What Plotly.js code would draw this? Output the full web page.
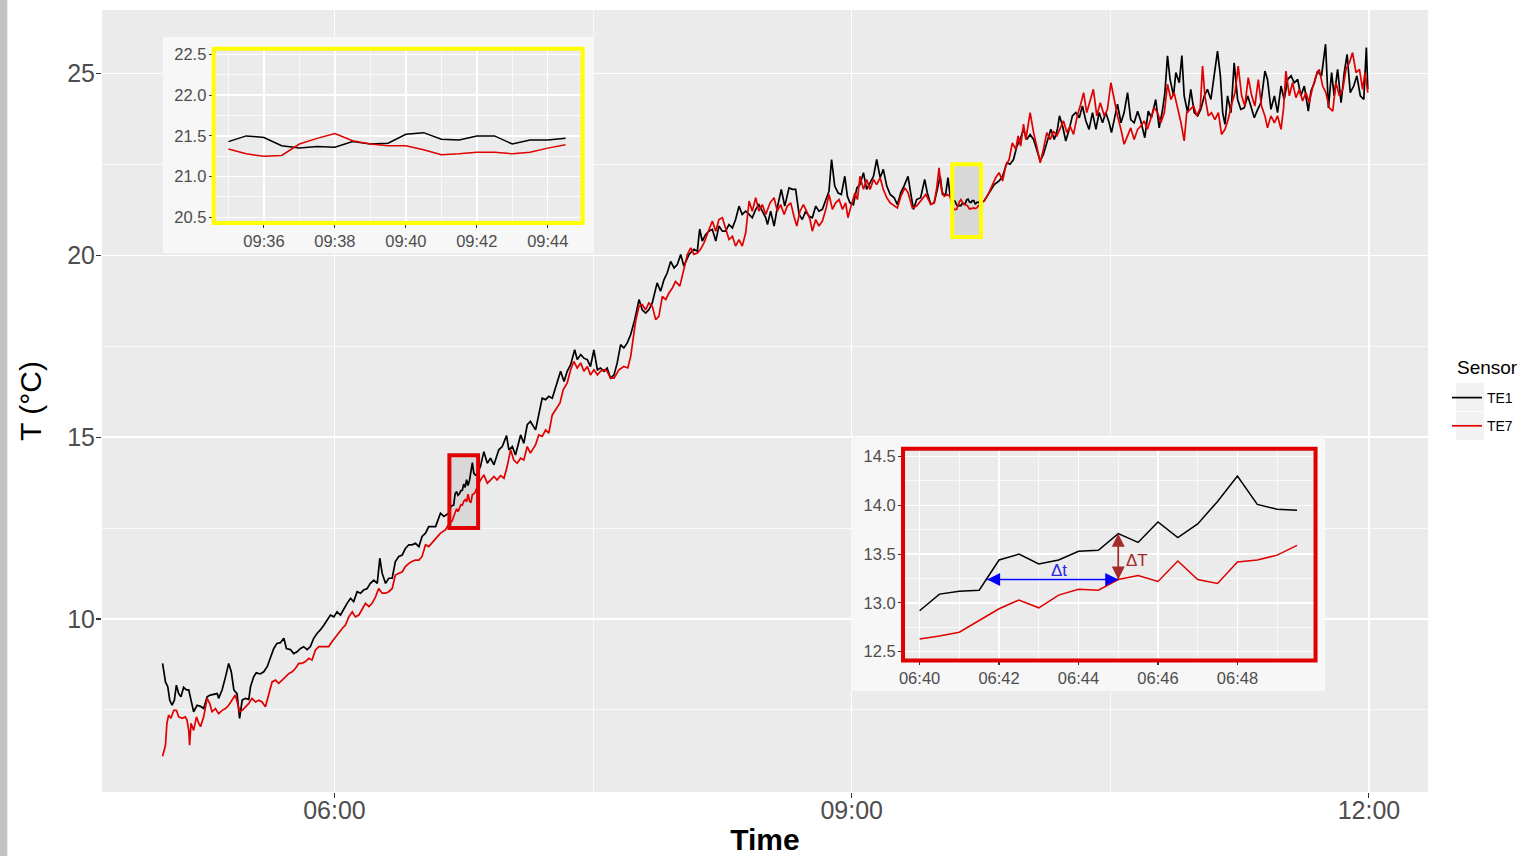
<!DOCTYPE html>
<html><head><meta charset="utf-8">
<script src="https://cdn.plot.ly/plotly-3.0.1.min.js"></script>
<style>html,body{margin:0;padding:0;background:#fff;}#chart{width:1528px;height:856px;}</style>
</head><body><div id="chart"></div>
<script>
// ---- DATA ----
// Main series: [minutes after 05:00, temperature °C]
const te1Main = [[0.2,8.78],[1.2,8.27],[2.0,8.14],[2.7,7.77],[3.5,7.63],[4.3,7.77],[5.0,8.18],[5.8,7.95],[6.6,7.86],[7.5,8.12],[8.5,8.05],[9.3,8.05],[10.1,7.77],[11.0,7.45],[12.2,7.63],[13.4,7.60],[14.5,7.54],[15.7,7.86],[16.8,7.91],[18.0,7.94],[19.2,7.95],[19.7,7.82],[20.9,8.05],[22.1,8.41],[23.2,8.78],[24.1,8.55],[25.0,8.05],[26.1,7.95],[27.0,7.27],[27.9,7.77],[29.0,7.82],[30.2,7.79],[30.8,8.14],[31.9,8.41],[32.8,8.52],[34.2,8.49],[35.4,8.55],[36.6,8.69],[37.7,8.96],[38.9,9.19],[40.0,9.33],[41.2,9.35],[42.4,9.47],[43.3,9.19],[44.7,9.16],[45.8,9.05],[47.0,9.10],[48.2,9.19],[49.3,9.24],[50.5,9.16],[51.6,9.24],[52.8,9.47],[54.0,9.61],[55.1,9.70],[56.3,9.83],[57.5,9.97],[58.6,10.11],[59.8,10.06],[60.9,10.20],[62.1,10.11],[63.3,10.29],[64.4,10.43],[65.6,10.57],[66.7,10.48],[67.9,10.75],[69.1,10.71],[70.2,10.80],[71.4,10.84],[72.5,10.98],[73.7,11.07],[74.9,10.98],[75.8,11.67],[76.6,11.26],[77.8,10.98],[78.9,11.12],[80.1,11.12],[81.2,11.58],[82.4,11.72],[83.6,11.76],[84.7,11.94],[85.9,12.04],[87.0,12.04],[88.2,12.08],[89.4,11.99],[90.5,12.27],[91.7,12.36],[92.8,12.54],[95.2,12.54],[96.9,12.91],[98.1,12.82],
[110.8,14.19],[112.0,14.60],[113.2,14.28],[114.3,14.42],[115.5,14.24],[117.2,14.65],[118.4,14.74],[119.9,15.04],[120.7,14.65],[121.9,14.74],[123.0,14.51],[124.8,15.06],[125.9,14.83],[127.1,15.34],[128.2,15.43],[130.0,15.20],[131.1,15.61],[132.3,16.07],[133.5,16.03],[134.6,16.12],[135.8,16.07],[137.5,16.49],[138.7,16.81],[139.9,16.53],[141.0,16.81],[142.2,16.99],[143.6,17.40],[144.5,17.13],[145.7,17.27],[146.8,17.17],[148.0,17.13],[149.1,16.94],[150.3,17.40],[151.5,16.85],[152.6,16.90],[153.8,16.81],[154.9,16.90],[156.1,16.62],[157.3,16.71],[158.4,17.04],[159.6,17.54],[160.7,17.45],[161.9,17.59],
[163.1,17.82],[164.5,18.23],[166.0,18.78],[167.1,18.50],[168.3,18.41],[169.4,18.50],[170.6,18.69],[172.3,19.24],[173.5,19.01],[174.7,19.33],[175.8,19.51],[177.0,19.83],[178.2,19.65],[179.3,19.74],[180.5,20.02],[181.6,19.70],[183.4,20.02],[185.1,20.16],[186.3,20.11],[187.1,20.72],[188.0,20.39],[189.2,20.57],[190.3,20.66],[191.5,20.71],[192.7,20.39],[193.8,20.80],[195.0,20.66],[196.1,20.66],[197.3,20.84],[198.5,20.75],[199.6,20.98],[200.8,21.35],[201.9,21.12],[203.1,21.21],[204.3,21.12],[205.4,21.03],[206.6,21.26],[207.7,21.39],[208.9,21.21],[210.1,21.03],[210.7,20.84],[211.8,21.21],[213.0,20.80],[214.1,21.30],[215.5,21.81],[216.7,21.35],[218.2,21.85],[219.4,21.81],[220.5,21.81],[221.7,21.12],[222.8,20.98],[224.0,21.21],[225.2,21.07],[226.3,21.03],[227.5,21.35],[228.6,21.21],[229.8,21.26],[231.0,21.53],[232.1,21.76],[233.0,22.63],[234.1,21.90],[235.3,21.71],[236.4,21.67],[237.6,22.17],[238.5,21.62],[239.4,21.44],[240.6,21.39],[241.8,21.85],[242.9,21.94],[244.1,22.27],[245.2,21.81],[246.4,21.99],[247.6,22.17],[248.7,22.63],[249.9,22.13],[251.0,22.36],[252.2,21.90],[253.4,21.67],[254.8,21.58],[255.9,21.39],
[257.1,21.72],[258.2,21.90],[259.6,22.17],[260.5,21.72],[261.5,21.26],[262.6,21.53],[264.0,21.58],[265.4,22.08],[266.3,21.72],[267.5,21.40],[268.7,21.44],[269.8,21.81],[270.8,22.17],[271.6,21.67],[272.7,21.67],[273.5,22.13],[274.2,21.67],
[286.1,21.49],[287.8,21.72],[289.6,21.94],[291.3,22.04],[292.5,22.17],[294.0,22.54],[295.1,22.50],[296.3,22.63],[297.5,23.00],[298.6,23.18],[299.8,23.46],[300.9,23.18],[302.1,23.32],[303.3,23.18],[304.4,22.91],[305.6,22.59],[306.7,22.77],[308.1,23.14],[309.3,23.46],[310.5,23.18],[311.6,23.46],[312.3,23.83],[313.4,23.55],[314.5,23.14],[315.7,23.46],[316.8,23.83],[318.0,23.92],[319.2,23.78],[320.3,24.10],[321.5,23.69],[322.6,23.46],[323.8,23.92],[325.0,23.46],[326.1,23.92],[327.3,23.64],[328.4,23.92],[329.6,23.64],[330.4,23.37],[331.3,23.73],[332.5,24.15],[333.7,23.64],[334.8,23.92],[336.0,24.47],[337.1,23.73],[338.3,23.64],[339.5,23.96],[340.6,23.69],[342.0,23.23],[343.2,23.96],[344.3,23.78],[345.8,24.28],[347.0,23.50],[348.2,24.01],[349.0,24.47],[349.9,25.48],[350.8,24.83],[352.0,24.38],[352.8,25.02],[354.0,24.74],[354.9,25.49],[355.7,24.38],[356.9,23.92],[358.0,24.56],[359.2,23.92],[360.4,23.83],[361.5,24.01],[362.7,24.38],[363.8,24.56],[365.0,24.28],[366.2,25.02],[367.3,25.61],[368.3,24.93],[369.1,23.92],[369.9,23.60],[370.8,24.38],[372.0,23.92],[373.1,25.29],[374.3,24.28],[375.4,24.01],[376.6,24.05],[377.8,24.38],[378.9,24.10],[380.1,23.78],[381.3,24.01],[382.4,24.19],[383.8,25.06],[384.7,24.83],[385.9,24.01],[387.1,24.38],[388.2,23.92],[389.4,24.65],[390.5,24.28],[391.7,24.83],[392.9,24.93],[394.0,24.74],[395.2,24.83],[396.3,24.38],[397.5,24.65],[398.9,23.96],[399.8,24.51],[401.0,24.74],[402.1,25.06],[403.5,24.93],[404.9,25.80],[405.9,24.05],[407.0,25.02],[407.9,24.38],[409.1,25.11],[410.3,24.19],[411.4,25.02],[412.4,25.52],[413.5,24.47],[414.7,24.65],[415.8,24.93],[417.0,24.38],[418.2,24.28],[419.1,25.71],[419.6,24.56]];

const te7Main = [[0.2,6.23],[1.2,6.53],[1.7,7.13],[2.3,7.36],[3.1,7.27],[4.1,7.49],[5.0,7.49],[5.8,7.31],[7.0,7.27],[8.1,7.31],[8.7,7.22],[9.3,6.94],[9.6,6.53],[10.1,7.13],[11.0,6.94],[12.0,7.31],[12.8,7.13],[13.4,7.04],[14.5,7.31],[15.7,7.82],[16.6,7.68],[17.4,7.45],[18.6,7.54],[19.7,7.40],[20.9,7.49],[22.1,7.54],[23.2,7.63],[24.4,7.79],[25.5,7.91],[26.3,7.68],[27.0,7.45],[27.9,7.49],[29.0,7.59],[30.2,7.68],[31.3,7.82],[32.5,7.72],[33.7,7.77],[34.8,7.72],[36.0,7.59],[37.1,7.95],[38.3,8.27],[39.5,8.32],[40.6,8.23],[41.8,8.32],[42.9,8.41],[44.1,8.50],[45.3,8.55],[46.4,8.64],[47.6,8.78],[48.7,8.78],[49.9,8.83],[51.1,8.92],[52.2,8.87],[53.4,9.15],[54.6,9.24],[55.7,9.24],[56.9,9.22],[58.0,9.24],[59.2,9.38],[60.4,9.51],[61.5,9.61],[62.7,9.74],[63.8,9.83],[65.0,10.06],[66.2,10.20],[67.3,10.06],[68.5,10.11],[69.6,10.25],[70.8,10.43],[72.0,10.34],[73.1,10.43],[74.3,10.61],[75.4,10.84],[76.6,10.71],[77.8,10.71],[78.9,10.75],[80.1,10.84],[81.2,11.21],[82.4,11.26],[83.6,11.30],[84.7,11.44],[85.9,11.53],[87.0,11.58],[88.2,11.62],[89.4,11.62],[90.5,11.72],[91.7,12.04],[92.8,11.99],[96.9,12.36],[98.6,12.45],
[110.8,13.82],[112.0,13.96],[113.2,13.73],[114.3,13.82],[115.5,13.92],[116.6,13.82],[117.8,13.94],[119.0,13.87],[120.1,14.19],[121.3,14.65],[122.4,14.37],[123.6,14.28],[124.8,14.42],[125.9,14.37],[127.1,14.74],[128.2,14.56],[130.0,14.79],[131.1,15.06],[132.3,15.02],[133.5,15.20],[134.6,15.11],[135.8,15.61],[137.0,15.75],[138.5,15.94],[139.6,16.30],[141.0,16.49],[142.2,16.85],[143.3,17.08],[144.5,16.90],[145.7,17.04],[146.8,16.81],[148.0,16.94],[149.1,16.71],[150.3,16.85],[151.5,16.71],[152.6,16.81],[153.8,16.85],[154.9,16.81],[156.1,16.62],[157.3,16.62],[159.0,16.85],[160.7,16.94],[162.1,16.90],[163.1,17.22],
[164.8,18.18],[166.0,18.60],[167.1,18.64],[168.3,18.50],[169.4,18.69],[170.6,18.60],[171.8,18.23],[172.9,18.32],[174.1,18.87],[175.3,18.78],[176.4,18.96],[177.6,19.10],[178.7,19.28],[180.2,19.15],[181.6,19.61],[182.8,20.02],[184.0,20.20],[185.1,20.02],[186.3,20.06],[187.4,20.16],[188.6,20.34],[189.8,20.57],[191.5,20.94],[192.7,20.66],[193.8,20.98],[195.0,21.03],[196.1,20.75],[197.3,20.43],[198.5,20.52],[199.6,20.25],[200.8,20.43],[201.9,20.25],[203.1,20.61],[204.3,21.49],[205.4,21.21],[206.6,21.58],[207.7,21.21],[208.9,21.39],[210.1,21.12],[211.6,21.44],[213.0,21.58],[214.1,21.21],[215.3,21.39],[216.5,21.12],[217.6,21.35],[218.8,21.44],[219.9,21.07],[220.9,20.80],[222.0,21.21],[223.2,21.39],[224.3,21.21],[225.5,20.98],[226.3,20.66],[227.5,20.98],[228.6,20.80],[229.8,20.94],[231.0,21.26],[232.1,21.67],[233.3,21.26],[234.4,21.44],[235.6,21.53],[236.8,21.26],[237.9,21.44],[238.7,21.03],[239.9,21.39],[241.1,21.71],[242.0,21.53],[242.9,22.17],[244.1,21.81],[245.2,22.08],[246.4,21.81],[247.6,22.08],[248.7,21.94],[249.9,22.13],[251.0,21.81],[252.2,21.58],[253.4,21.44],[254.8,21.35],[255.9,21.30],
[257.1,21.62],[258.5,21.85],[259.6,21.72],[261.1,21.30],[262.6,21.35],[264.3,21.53],[265.8,21.67],[267.5,21.40],[268.7,21.44],[269.6,21.85],[270.4,22.40],[271.2,21.81],[272.2,21.62],[273.3,21.67],[274.2,21.62],
[286.1,21.49],[287.5,21.67],[289.0,21.94],[290.1,22.13],[291.3,22.27],[292.5,22.04],[293.6,22.45],[294.8,22.63],[295.9,23.09],[297.1,22.91],[297.9,23.28],[298.8,23.00],[299.8,23.60],[300.6,23.18],[302.1,23.92],[303.3,23.37],[304.4,23.00],[305.6,22.54],[306.7,22.91],[307.9,23.37],[309.1,23.18],[310.2,23.41],[311.4,23.28],[312.5,23.46],[313.7,23.69],[314.9,23.37],[316.0,23.55],[317.2,23.32],[318.6,23.87],[319.7,24.15],[320.7,24.47],[321.8,23.92],[323.0,24.28],[324.1,24.56],[325.3,23.83],[326.5,24.19],[327.9,23.83],[329.0,24.01],[330.2,24.74],[331.3,24.28],[332.5,23.83],[333.7,23.46],[334.8,23.05],[336.0,23.28],[337.1,23.50],[338.3,23.18],[339.5,23.46],[340.6,23.55],[341.8,23.69],[342.9,23.46],[344.1,23.73],[345.3,24.05],[346.4,23.92],[347.6,23.64],[348.8,23.92],[349.9,24.70],[351.1,24.28],[352.2,24.47],[353.4,24.05],[354.6,23.64],[355.7,23.14],[356.6,23.92],[357.8,24.01],[359.0,24.10],[360.1,23.83],[361.3,24.05],[362.1,25.20],[362.9,24.38],[364.1,23.83],[365.2,23.92],[366.4,23.73],[367.6,23.92],[368.7,23.32],[369.9,23.46],[371.0,23.73],[372.2,24.15],[373.4,24.47],[374.5,25.20],[375.7,24.38],[376.8,24.10],[378.0,24.88],[379.2,24.38],[380.3,24.10],[381.5,24.83],[382.6,24.10],[383.8,23.83],[384.7,23.50],[385.9,23.83],[387.1,23.64],[388.2,23.83],[389.4,23.46],[390.3,24.05],[391.1,25.06],[392.3,24.38],[393.4,24.74],[394.6,24.33],[395.8,24.56],[396.9,24.24],[398.1,24.47],[399.2,24.19],[400.4,24.61],[401.6,24.93],[402.7,25.11],[403.9,24.65],[405.0,24.47],[406.2,24.05],[407.4,23.96],[408.5,24.74],[409.7,24.38],[410.9,24.56],[412.0,25.11],[413.2,25.29],[414.3,25.57],[415.5,25.02],[416.7,25.11],[417.8,24.56],[418.6,25.02],[419.6,24.47]];

// Zoom window A (yellow): 09:35 – 09:44:30
const zoomATimes = ['09:35:00','09:35:30','09:36:00','09:36:30','09:37:00','09:37:30','09:38:00','09:38:30','09:39:00','09:39:30','09:40:00','09:40:30','09:41:00','09:41:30','09:42:00','09:42:30','09:43:00','09:43:30','09:44:00','09:44:30'];
const zoomATE1 = [21.43,21.50,21.48,21.38,21.35,21.37,21.36,21.43,21.40,21.41,21.52,21.54,21.46,21.45,21.50,21.50,21.40,21.45,21.45,21.47];
const zoomATE7 = [21.34,21.28,21.25,21.26,21.40,21.47,21.53,21.44,21.40,21.38,21.38,21.33,21.27,21.28,21.30,21.30,21.28,21.30,21.35,21.39];

// Zoom window B (red): 06:40 – 06:49:30
const zoomBTimes = ['06:40:00','06:40:30','06:41:00','06:41:30','06:42:00','06:42:30','06:43:00','06:43:30','06:44:00','06:44:30','06:45:00','06:45:30','06:46:00','06:46:30','06:47:00','06:47:30','06:48:00','06:48:30','06:49:00','06:49:30'];
const zoomBTE1 = [12.92,13.09,13.12,13.13,13.44,13.50,13.40,13.44,13.53,13.54,13.71,13.62,13.83,13.67,13.81,14.04,14.30,14.01,13.96,13.95];
const zoomBTE7 = [12.63,12.66,12.70,12.82,12.94,13.03,12.95,13.08,13.14,13.13,13.24,13.28,13.22,13.43,13.24,13.20,13.42,13.44,13.49,13.59];

const seriesNames = ['TE1','TE7'];
const seriesColors = ['#000000','#E00000'];
const mainTicks = ['06:00','09:00','12:00'];

// Annotation values (inset B): time lag and temperature difference
const dtStart = '06:41:42', dtEnd = '06:45:00', dtLevel = 13.24;
const dTTime = '06:45:00', dTTop = 13.71, dTBottom = 13.24;

// ---- BUILD ----
const DAY = '2016-03-10 ';
const pad = n => String(n).padStart(2,'0');
function stamp(min){
  const s = Math.round(5*3600 + min*60);
  return DAY + pad(Math.floor(s/3600)) + ':' + pad(Math.floor((s%3600)/60)) + ':' + pad(s%60);
}
function merge(main, times, vals){
  const pts = main.map(p => [stamp(p[0]), p[1]]).concat(times.map((t,i)=>[DAY+t, vals[i]]));
  pts.sort((a,b)=> a[0] < b[0] ? -1 : a[0] > b[0] ? 1 : 0);
  return pts;
}
const te1All = merge(te1Main, zoomATimes.concat(zoomBTimes), zoomATE1.concat(zoomBTE1));
const te7All = merge(te7Main, zoomATimes.concat(zoomBTimes), zoomATE7.concat(zoomBTE7));

const FONT = 'Liberation Sans, Arial, Helvetica, sans-serif';
const TICKC = '#4D4D4D';

function line(pts, k, xa, ya, show, w){
  return {type:'scatter', mode:'lines', x: pts.map(p=>p[0]), y: pts.map(p=>p[1]),
    name: seriesNames[k], legendgroup: seriesNames[k], showlegend: show,
    line:{color: seriesColors[k], width: w}, xaxis: xa, yaxis: ya, hoverinfo:'skip'};
}
function bgFill(xa, ya){
  return {type:'scatter', mode:'lines', x:[0,1,1,0,0], y:[0,0,1,1,0], fill:'toself',
    fillcolor:'#F7F7F7', line:{width:0, color:'#F7F7F7'}, showlegend:false, hoverinfo:'skip', xaxis:xa, yaxis:ya};
}
function arrow(xs, ys, syms, color){
  return {type:'scatter', mode:'lines+markers', x: xs, y: ys, showlegend:false, hoverinfo:'skip',
    line:{color: color, width:1.7}, marker:{symbol: syms, size:13, color: color, line:{width:0}},
    xaxis:'x5', yaxis:'y5', cliponaxis:false};
}

const traces = [
  line(te1All, 0, 'x', 'y', true, 1.7),
  line(te7All, 1, 'x', 'y', true, 1.7),
  bgFill('x2','y2'),
  line(zoomATimes.map((t,i)=>[DAY+t, zoomATE1[i]]), 0, 'x3', 'y3', false, 1.5),
  line(zoomATimes.map((t,i)=>[DAY+t, zoomATE7[i]]), 1, 'x3', 'y3', false, 1.5),
  bgFill('x4','y4'),
  line(zoomBTimes.map((t,i)=>[DAY+t, zoomBTE1[i]]), 0, 'x5', 'y5', false, 1.5),
  line(zoomBTimes.map((t,i)=>[DAY+t, zoomBTE7[i]]), 1, 'x5', 'y5', false, 1.5),
  arrow([DAY+dtStart, DAY+dtEnd], [dtLevel, dtLevel], ['arrow-left','arrow-right'], '#0000FF'),
  arrow([DAY+dTTime, DAY+dTTime], [dTTop, dTBottom], ['arrow-up','arrow-down'], '#A52A2A')
];

const hidden = {range:[0,1], visible:false, showgrid:false, zeroline:false, showticklabels:false, ticks:'', showline:false, fixedrange:true};
function timeAxis(dom, anchor, range, dtick, minor, size, len, so){
  return {domain: dom, anchor: anchor, type:'date', range: range, tick0: DAY+'00:00:00', dtick: dtick,
    tickformat:'%H:%M', ticks:'outside', ticklen: len, tickwidth:1.1, tickcolor:'#333333', ticklabelstandoff: so,
    tickfont:{family:FONT, size:size, color:TICKC}, showgrid:true, gridcolor:'#FFFFFF', gridwidth:1.4,
    minor:{dtick:minor, tick0: DAY+'00:00:00', showgrid:true, gridcolor:'#FFFFFF', gridwidth:0.7, ticks:''},
    zeroline:false, showline:false, fixedrange:true};
}
function valAxis(dom, anchor, range, dtick, minor, size, len, fmt, so){
  return {domain: dom, anchor: anchor, range: range, tick0:0, dtick: dtick, tickformat: fmt,
    ticks:'outside', ticklen: len, tickwidth:1.1, tickcolor:'#333333', ticklabelstandoff: so,
    tickfont:{family:FONT, size:size, color:TICKC}, showgrid:true, gridcolor:'#FFFFFF', gridwidth:1.4,
    minor:{dtick:minor, tick0:0, showgrid:true, gridcolor:'#FFFFFF', gridwidth:0.7, ticks:''},
    zeroline:false, showline:false, fixedrange:true};
}

const xMain = timeAxis([0,1], 'y', [DAY+'04:39:07', DAY+'12:20:33'], 10800000, 5400000, 25, 5, -9);
xMain.title = {text:'Time', font:{family:FONT, size:30, color:'#000', weight:'bold'}, standoff:11};
xMain.tickvals = mainTicks.map(t=>DAY+t);
xMain.ticktext = mainTicks;
const yMain = valAxis([0,1], 'x', [5.245, 26.74], 5, 2.5, 25, 5, 'd', -4);
yMain.title = {text:'T (\u00B0C)', font:{family:FONT, size:30, color:'#000'}, standoff:16};

const layout = {
  width:1528, height:856, margin:{l:102, r:100, t:10, b:64, autoexpand:false},
  paper_bgcolor:'#FFFFFF', plot_bgcolor:'#EBEBEB',
  font:{family:FONT, color:TICKC},
  showlegend:true,
  legend:{x:1.0143, y:0.5243, xanchor:'left', yanchor:'top', bgcolor:'rgba(0,0,0,0)',
    font:{family:FONT, size:14, color:'#000'}, tracegroupgap:7, itemwidth:30},
  xaxis: xMain, yaxis: yMain,
  xaxis2: Object.assign({domain:[0.0460,0.3703], anchor:'y2'}, hidden),
  yaxis2: Object.assign({domain:[0.6893,0.9655], anchor:'x2'}, hidden),
  xaxis3: timeAxis([0.0842,0.3625], 'y3', [DAY+'09:34:35', DAY+'09:44:59'], 120000, 60000, 16.5, 4, -1),
  yaxis3: valAxis([0.7276,0.9504], 'x3', [20.43, 22.57], 0.5, 0.25, 16.5, 4, '.1f', -1),
  xaxis4: Object.assign({domain:[0.5649,0.9223], anchor:'y4'}, hidden),
  yaxis4: Object.assign({domain:[0.1292,0.4540], anchor:'x4'}, hidden),
  xaxis5: timeAxis([0.6041,0.9152], 'y5', [DAY+'06:39:35', DAY+'06:49:58'], 120000, 60000, 16.5, 4, -1),
  yaxis5: valAxis([0.1682,0.4389], 'x5', [12.41, 14.58], 0.5, 0.25, 16.5, 4, '.1f', -1),
  shapes:[
    {type:'rect', xref:'x', yref:'y', x0:DAY+'09:35:00', x1:DAY+'09:45:00', y0:20.5, y1:22.5, layer:'between', fillcolor:'rgba(200,200,200,0.55)', line:{width:0}},
    {type:'rect', xref:'x', yref:'y', x0:DAY+'09:35:00', x1:DAY+'09:45:00', y0:20.5, y1:22.5, layer:'above', fillcolor:'rgba(0,0,0,0)', line:{color:'#FFFF00', width:4}},
    {type:'rect', xref:'x', yref:'y', x0:DAY+'06:40:00', x1:DAY+'06:50:00', y0:12.5, y1:14.5, layer:'between', fillcolor:'rgba(200,200,200,0.55)', line:{width:0}},
    {type:'rect', xref:'x', yref:'y', x0:DAY+'06:40:00', x1:DAY+'06:50:00', y0:12.5, y1:14.5, layer:'above', fillcolor:'rgba(0,0,0,0)', line:{color:'#E00000', width:4}},
    {type:'rect', xref:'paper', yref:'paper', x0:0.0842, x1:0.3625, y0:0.7276, y1:0.9504, layer:'above', fillcolor:'rgba(0,0,0,0)', line:{color:'#FFFF00', width:4}},
    {type:'rect', xref:'paper', yref:'paper', x0:0.6041, x1:0.9152, y0:0.1682, y1:0.4389, layer:'above', fillcolor:'rgba(0,0,0,0)', line:{color:'#E00000', width:4}},
    {type:'rect', xref:'paper', yref:'paper', x0:-0.0770, x1:-0.0714, y0:-0.09, y1:1.02, layer:'below', fillcolor:'#C2C2C2', line:{width:0}},
    // legend key backgrounds
    {type:'rect', xref:'paper', yref:'paper', x0:1.0211, x1:1.0422, y0:0.4872, y1:0.5230, layer:'below', fillcolor:'#F2F2F2', line:{width:0}},
    {type:'rect', xref:'paper', yref:'paper', x0:1.0211, x1:1.0422, y0:0.4501, y1:0.4859, layer:'below', fillcolor:'#F2F2F2', line:{width:0}}
  ],
  annotations:[
    {xref:'paper', yref:'paper', x:1.0204, y:0.5422, xanchor:'left', yanchor:'middle', text:'Sensor', showarrow:false, font:{family:FONT, size:19, color:'#000'}},
    {xref:'x5', yref:'y5', x:DAY+'06:43:30', y:13.33, text:'\u0394t', showarrow:false, font:{family:FONT, size:17, color:'#2A2AE0'}},
    {xref:'x5', yref:'y5', x:DAY+'06:45:28', y:13.43, text:'\u0394T', showarrow:false, font:{family:FONT, size:17, color:'#A52A2A'}}
  ]
};

Plotly.newPlot('chart', traces, layout, {staticPlot:true, displayModeBar:false});
</script></body></html>
